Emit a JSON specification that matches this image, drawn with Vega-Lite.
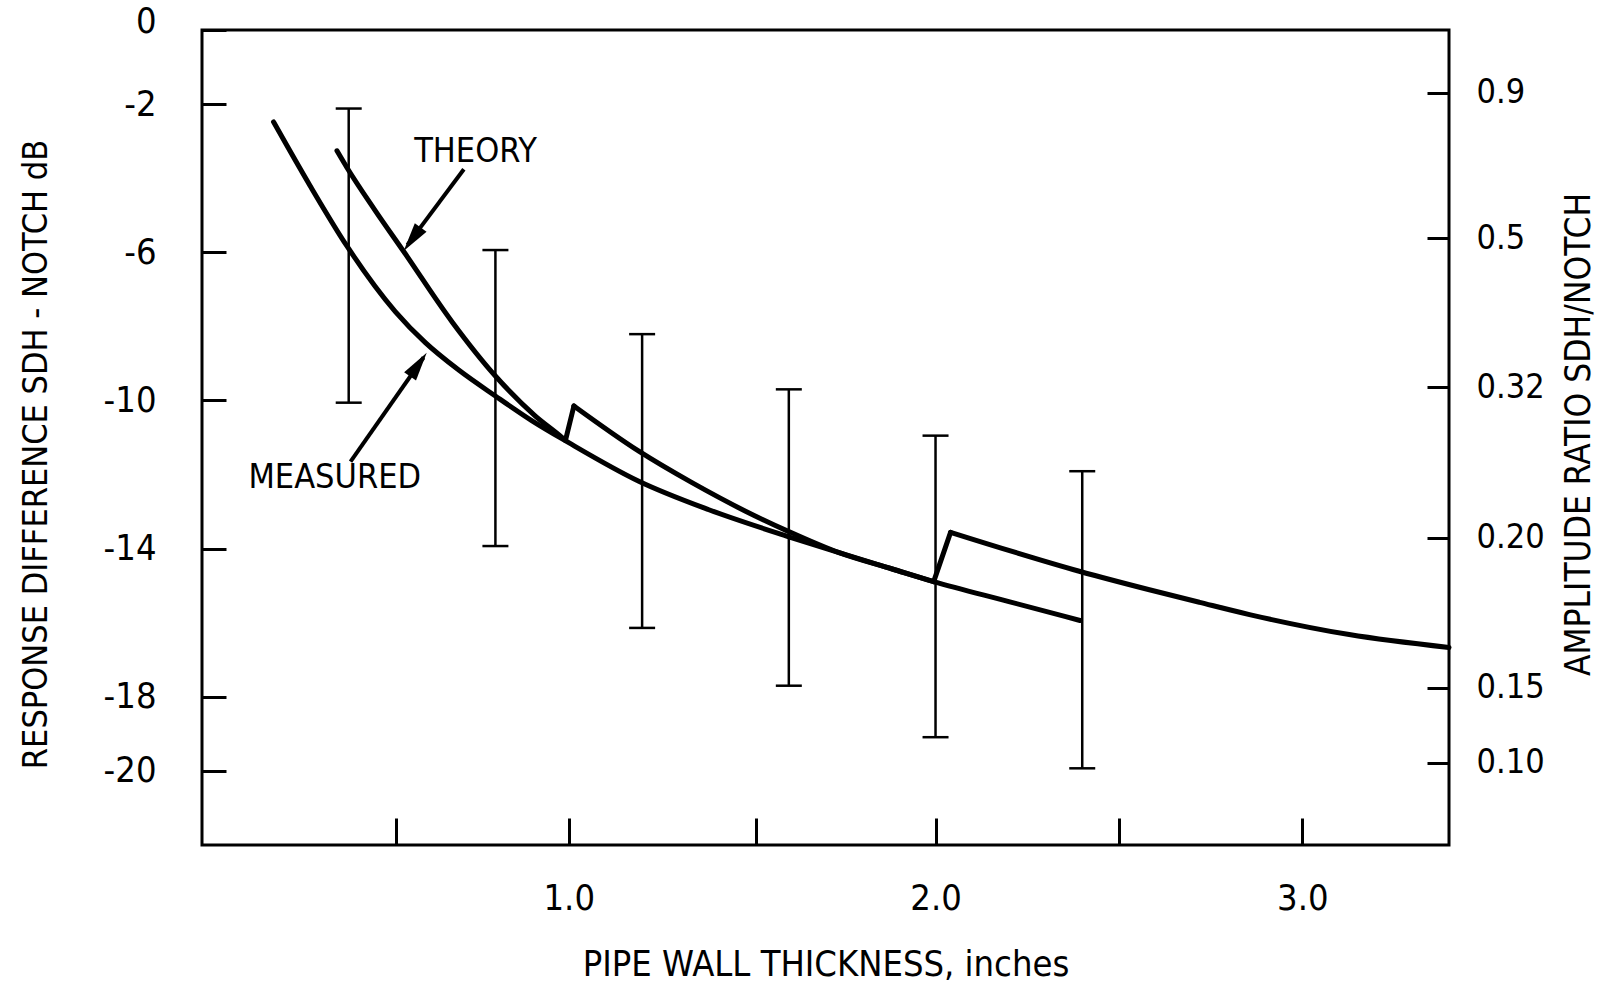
{
  "$schema": "https://vega.github.io/schema/vega-lite/v6.json",
  "width": 1247,
  "height": 815,
  "autosize": "none",
  "padding": {"left": 202, "top": 30, "right": 152, "bottom": 137},
  "background": "white",
  "datasets": {
    "curves": [
      {"series": "measured", "seg": "m", "x": 0.195, "y": -2.48},
      {"series": "measured", "seg": "m", "x": 0.295, "y": -4.21},
      {"series": "measured", "seg": "m", "x": 0.395, "y": -5.83},
      {"series": "measured", "seg": "m", "x": 0.527, "y": -7.6},
      {"series": "measured", "seg": "m", "x": 0.609, "y": -8.44},
      {"series": "measured", "seg": "m", "x": 0.7, "y": -9.18},
      {"series": "measured", "seg": "m", "x": 0.8, "y": -9.88},
      {"series": "measured", "seg": "m", "x": 0.9, "y": -10.55},
      {"series": "measured", "seg": "m", "x": 1.0, "y": -11.14},
      {"series": "measured", "seg": "m", "x": 1.191, "y": -12.18},
      {"series": "measured", "seg": "m", "x": 1.382, "y": -12.95},
      {"series": "measured", "seg": "m", "x": 1.6, "y": -13.68},
      {"series": "measured", "seg": "m", "x": 1.737, "y": -14.11},
      {"series": "measured", "seg": "m", "x": 1.882, "y": -14.55},
      {"series": "measured", "seg": "m", "x": 1.995, "y": -14.89},
      {"series": "measured", "seg": "m", "x": 2.2, "y": -15.43},
      {"series": "measured", "seg": "m", "x": 2.394, "y": -15.94},
      {"series": "theory", "seg": "t1", "x": 0.368, "y": -3.26},
      {"series": "theory", "seg": "t1", "x": 0.395, "y": -3.71},
      {"series": "theory", "seg": "t1", "x": 0.47, "y": -4.84},
      {"series": "theory", "seg": "t1", "x": 0.55, "y": -5.98},
      {"series": "theory", "seg": "t1", "x": 0.682, "y": -7.88},
      {"series": "theory", "seg": "t1", "x": 0.8, "y": -9.34},
      {"series": "theory", "seg": "t1", "x": 0.909, "y": -10.42},
      {"series": "theory", "seg": "t1", "x": 0.982, "y": -11.0},
      {"series": "theory", "seg": "t1", "x": 0.991, "y": -11.08},
      {"series": "theory", "seg": "j1", "x": 0.991, "y": -11.08},
      {"series": "theory", "seg": "j1", "x": 1.014, "y": -10.15},
      {"series": "theory", "seg": "t2", "x": 1.014, "y": -10.15},
      {"series": "theory", "seg": "t2", "x": 1.191, "y": -11.37},
      {"series": "theory", "seg": "t2", "x": 1.336, "y": -12.22},
      {"series": "theory", "seg": "t2", "x": 1.482, "y": -12.99},
      {"series": "theory", "seg": "t2", "x": 1.6, "y": -13.54},
      {"series": "theory", "seg": "t2", "x": 1.737, "y": -14.11},
      {"series": "theory", "seg": "t2", "x": 1.882, "y": -14.55},
      {"series": "theory", "seg": "t2", "x": 1.995, "y": -14.89},
      {"series": "theory", "seg": "j2", "x": 1.995, "y": -14.89},
      {"series": "theory", "seg": "j2", "x": 2.041, "y": -13.56},
      {"series": "theory", "seg": "t3", "x": 2.041, "y": -13.56},
      {"series": "theory", "seg": "t3", "x": 2.392, "y": -14.61},
      {"series": "theory", "seg": "t3", "x": 2.583, "y": -15.11},
      {"series": "theory", "seg": "t3", "x": 2.72, "y": -15.45},
      {"series": "theory", "seg": "t3", "x": 2.856, "y": -15.78},
      {"series": "theory", "seg": "t3", "x": 3.128, "y": -16.32},
      {"series": "theory", "seg": "t3", "x": 3.4, "y": -16.67}
    ],
    "errs": [
      {"x": 0.4, "lo": -10.06, "hi": -2.12},
      {"x": 0.8, "lo": -13.93, "hi": -5.94},
      {"x": 1.2, "lo": -16.14, "hi": -8.21},
      {"x": 1.6, "lo": -17.7, "hi": -9.7},
      {"x": 2.0, "lo": -19.09, "hi": -10.95},
      {"x": 2.4, "lo": -19.93, "hi": -11.91}
    ],
    "labels": [
      {"x": 0.746, "y": -3.28, "label": "THEORY"},
      {"x": 0.362, "y": -12.1, "label": "MEASURED"}
    ],
    "arrows": [
      {"x": 0.714, "y": -3.76, "x2": 0.56, "y2": -5.8},
      {"x": 0.405, "y": -11.65, "x2": 0.604, "y2": -8.84}
    ],
    "heads": [
      {"x": 0.573, "y": -5.65, "angle": 216},
      {"x": 0.59, "y": -9.03, "angle": 35}
    ]
  },
  "encoding": {
    "x": {
      "field": "x", "type": "quantitative",
      "scale": {"domain": [0, 3.4], "nice": false, "zero": false},
      "axis": {
        "orient": "bottom",
        "values": [0.53, 1, 1.51, 2, 2.5, 3],
        "tickSize": -27,
        "labelPadding": 63,
        "labelBaseline": "top",
        "labelExpr": "datum.value % 1 === 0 ? format(datum.value, '.1f') : ''",
        "labelFlush": false,
        "labelOverlap": false,
        "title": "PIPE WALL THICKNESS, inches",
        "titleY": 130,
        "titleBaseline": "alphabetic"
      }
    }
  },
  "layer": [
    {
      "encoding": {
        "y": {
          "field": "y", "type": "quantitative",
          "scale": {"domain": [-22, 0], "nice": false, "zero": false},
          "axis": {
            "orient": "left",
            "values": [0, -2, -6, -10, -14, -18, -20],
            "tickSize": -24,
            "labelPadding": 70,
            "labelExpr": "'' + datum.value",
            "labelOffset": {"condition": {"test": "datum.value === 0", "value": -9}, "value": 0},
            "labelFlush": false,
            "labelOverlap": false,
            "title": "RESPONSE DIFFERENCE SDH - NOTCH dB",
            "titleFontSize": 34,
            "titleAngle": 270,
            "titleX": -166,
            "titleY": 424,
            "titleAlign": "center",
            "titleBaseline": "middle"
          }
        }
      },
      "layer": [
        {
          "data": {"name": "curves"},
          "mark": {"type": "line", "interpolate": "monotone", "strokeWidth": 5, "color": "black", "strokeCap": "round", "strokeJoin": "round"},
          "encoding": {"detail": {"field": "seg", "type": "nominal"}}
        },
        {
          "data": {"name": "errs"},
          "transform": [{"fold": ["lo", "hi"], "as": ["end", "y"]}],
          "mark": {"type": "tick", "orient": "horizontal", "size": 26, "thickness": 2.5, "color": "black", "opacity": 1}
        },
        {
          "data": {"name": "arrows"},
          "mark": {"type": "rule", "strokeWidth": 4, "color": "black"},
          "encoding": {"x2": {"field": "x2"}, "y2": {"field": "y2"}}
        },
        {
          "data": {"name": "heads"},
          "mark": {"type": "point", "shape": "M0,-1L0.5,1L-0.5,1Z", "filled": true, "color": "black", "opacity": 1, "size": 841, "strokeWidth": 0},
          "encoding": {"angle": {"field": "angle", "type": "quantitative", "scale": null}}
        },
        {
          "data": {"name": "labels"},
          "mark": {"type": "text", "fontSize": 34, "align": "center", "baseline": "middle", "color": "black", "font": "DejaVu Sans Condensed, sans-serif"},
          "encoding": {"text": {"field": "label", "type": "nominal"}}
        }
      ]
    },
    {
      "data": {"name": "errs"},
      "mark": {"type": "rule", "strokeWidth": 2.5, "color": "black"},
      "encoding": {
        "y": {
          "field": "lo", "type": "quantitative",
          "scale": {"domain": [-22, 0], "nice": false, "zero": false},
          "axis": {
            "orient": "right",
            "values": [-1.7, -5.62, -9.65, -13.7, -17.76, -19.78],
            "tickSize": -22,
            "labelPadding": 49,
            "labelAlign": "left",
            "labelFontSize": 34,
            "labelExpr": "datum.value > -3 ? '0.9' : datum.value > -8 ? '0.5' : datum.value > -12 ? '0.32' : datum.value > -16 ? '0.20' : datum.value > -19 ? '0.15' : '0.10'",
            "labelFlush": false,
            "labelOverlap": false,
            "title": "AMPLITUDE RATIO SDH/NOTCH",
            "titleFontSize": 35,
            "titleAngle": 270,
            "titleX": 129,
            "titleY": 404,
            "titleAlign": "center",
            "titleBaseline": "middle"
          }
        },
        "y2": {"field": "hi"}
      }
    }
  ],
  "resolve": {"scale": {"y": "independent"}},
  "config": {
    "view": {"stroke": "black", "strokeWidth": 3},
    "axis": {
      "domain": false,
      "grid": false,
      "ticks": true,
      "tickColor": "black",
      "tickWidth": 3,
      "labelColor": "black",
      "labelFont": "DejaVu Sans Condensed, sans-serif",
      "labelFontSize": 36,
      "titleColor": "black",
      "titleFont": "DejaVu Sans Condensed, sans-serif",
      "titleFontSize": 36,
      "titleFontWeight": "normal"
    }
  }
}
